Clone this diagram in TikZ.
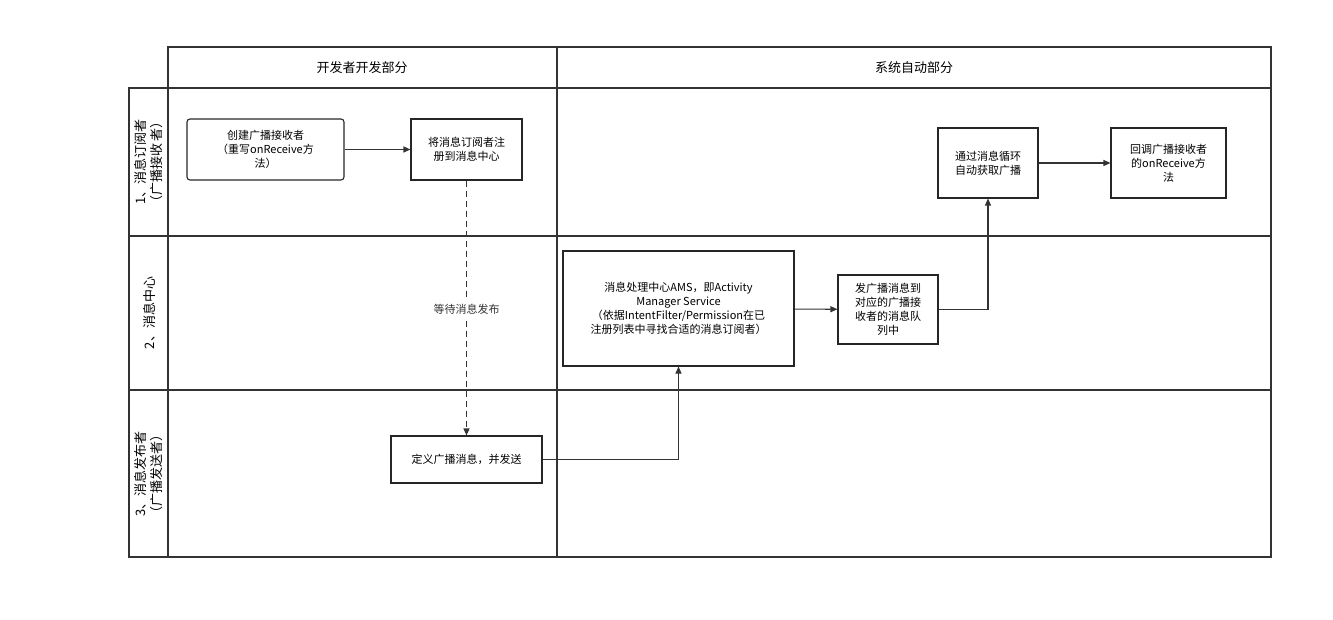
\documentclass[tikz,border=0pt]{standalone}
\usepackage{fontspec}
\setmainfont{Noto Sans CJK SC}
\usetikzlibrary{arrows.meta}
\begin{document}
\begin{tikzpicture}[x=1pt,y=-1pt,
  lane/.style={draw=black!80,line width=1.3pt},
  box/.style={draw=black!85,line width=1.1pt,align=center,inner sep=2pt,font=\fontsize{11}{14}\selectfont},
  arr/.style={-{Triangle[length=7pt,width=6pt]},line width=1.1pt,black!80},
  lbl/.style={font=\fontsize{13}{16}\selectfont,align=center}]
\useasboundingbox (0,0) rectangle (1333,620);
% grid
\draw[lane] (168,47) rectangle (1271,88);
\draw[lane] (129,88) rectangle (1271,557);
\draw[lane] (168,88) -- (168,557);
\draw[lane] (557,47) -- (557,557);
\draw[lane] (129,236) -- (1271,236);
\draw[lane] (129,390) -- (1271,390);
\node[lbl] (h1) at (362,68) {开发者开发部分};
\node[lbl] (h2) at (914,68) {系统自动部分};
\node[lbl,rotate=90] (l1) at (149,162) {1、消息订阅者\\（广播接收 者）};
\node[lbl,rotate=90] (l2) at (149,313) {2、消息中心};
\node[lbl,rotate=90] (l3) at (149,474) {3、消息发布者\\（广播发送者）};
% nodes
\node[box,rounded corners=3pt,minimum width=157pt,minimum height=61pt] (A) at (265.5,149.5) {创建广播接收者\\（重写onReceive方\\法）};
\node[box,minimum width=111pt,minimum height=61pt] (B) at (466.5,149.5) {将消息订阅者注\\册到消息中心};
\node[box,minimum width=100pt,minimum height=70pt] (C) at (988,163) {通过消息循环\\自动获取广播};
\node[box,minimum width=115pt,minimum height=70pt] (D) at (1168.5,163) {回调广播接收者\\的onReceive方\\法};
\node[box,minimum width=231pt,minimum height=115pt] (E) at (678.5,308.5) {消息处理中心AMS，即Activity\\Manager Service\\（依据IntentFilter/Permission在已\\注册列表中寻找合适的消息订阅者）};
\node[box,minimum width=100pt,minimum height=69pt] (F) at (888,309.5) {发广播消息到\\对应的广播接\\收者的消息队\\列中};
\node[box,minimum width=151pt,minimum height=47pt] (G) at (466.5,459.5) {定义广播消息，并发送};
% connectors
\draw[arr] (A) -- (B);
\draw[arr,dashed,dash pattern=on 6pt off 4pt] (B) -- node[fill=white,font=\fontsize{11}{14}\selectfont,pos=0.505] (w) {等待消息发布} (G);
\draw[arr] (G.east) -| (E.south);
\draw[arr] (E) -- (F);
\draw[arr] (F.east) -| (C.south);
\draw[arr] (C) -- (D);
\end{tikzpicture}
\end{document}
